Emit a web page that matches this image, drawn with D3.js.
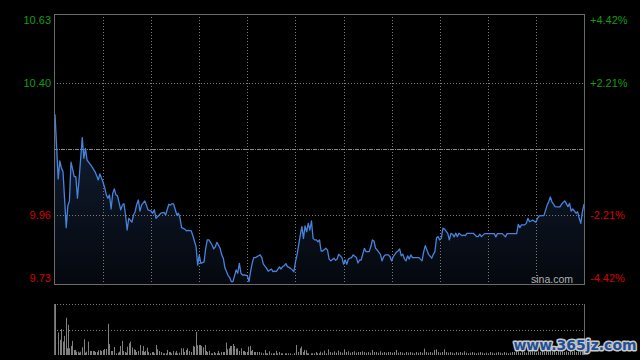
<!DOCTYPE html>
<html><head><meta charset="utf-8">
<script src="https://cdn.jsdelivr.net/npm/d3@7/dist/d3.min.js"></script>
<style>html,body{margin:0;padding:0;background:#000;}svg{display:block;}</style>
</head><body>
<svg id="c" width="640" height="360"></svg>
<script>
// ---- data ----
const prevClose = 10.18;
const leftTickValues = [10.63, 10.40, 9.96, 9.73];
const leftTickLabels = ["10.63", "10.40", "9.96", "9.73"];
const rightTickLabels = ["+4.42%", "+2.21%", "-2.21%", "-4.42%"];
const sessionMinutes = 330;
const gridMinutes = [30, 60, 90, 120, 150, 180, 210, 240, 270, 300];

const priceMinutes = [0,2,3,4,5,7,8,9,10,12,13,14,15,17,18,19,20,22,23,25,27,28,30,31,32,33,34,35,36,37,38,39,41,42,43,44,45,46,48,49,50,51,52,53,54,56,57,58,60,61,62,63,65,66,
68,69,71,72,73,74,76,77,78,79,81,82,83,85,86,88,89,90,91,93,94,95,96,98,99,100,101,103,104,105,106,108,109,110,111,113,114,115,116,117,118,120,121,122,123,124,125,127,128,129,130,132,
133,135,136,137,138,140,141,142,143,144,145,147,148,149,150,151,152,153,154,155,156,157,158,159,160,161,162,163,164,165,166,167,169,170,171,172,174,175,176,177,179,180,181,182,183,184,185,186,188,189,190,191,193,194,196,197,198,
199,200,201,203,204,205,206,208,209,210,211,213,214,215,216,217,218,219,220,221,222,223,225,226,227,229,230,231,232,233,235,236,237,238,239,240,241,242,243,245,246,247,248,249,250,251,252,254,255,256,257,259,260,261,263,264,
265,266,268,269,271,273,274,275,276,278,279,281,282,283,285,286,288,289,290,291,293,294,295,296,297,298,300,301,302,304,305,307,308,309,310,312,313,315,316,317,318,320,321,322,323,325,326,327,328,329,330];

const prices = [10.296,10.080,10.140,10.117,10.104,9.918,9.990,10.007,10.136,10.088,10.088,10.016,10.077,10.218,10.149,10.182,10.143,10.129,10.121,10.104,10.077,10.097,10.069,10.051,10.027,10.016,10.027,9.980,10.032,10.047,10.027,10.024,9.977,9.993,9.998,9.960,9.910,9.949,9.936,9.960,9.971,9.996,10.010,9.973,9.993,10.007,9.993,9.977,9.973,9.966,9.977,9.949,9.960,9.966,
9.969,9.960,9.996,9.993,9.998,9.996,9.960,9.966,9.949,9.918,9.913,9.907,9.909,9.907,9.891,9.854,9.793,9.827,9.799,9.804,9.849,9.877,9.877,9.860,9.847,9.854,9.869,9.849,9.827,9.816,9.784,9.758,9.751,9.738,9.738,9.777,9.766,9.799,9.766,9.760,9.760,9.758,9.738,9.771,9.799,9.818,9.818,9.824,9.827,9.818,9.796,9.782,
9.773,9.780,9.771,9.773,9.771,9.787,9.780,9.788,9.791,9.798,9.788,9.782,9.777,9.771,9.804,9.827,9.860,9.893,9.921,9.882,9.924,9.904,9.932,9.910,9.940,9.882,9.877,9.877,9.871,9.877,9.840,9.840,9.849,9.843,9.813,9.807,9.816,9.809,9.813,9.829,9.818,9.796,9.810,9.796,9.813,9.816,9.818,9.827,9.818,9.800,9.810,9.810,9.849,9.838,9.838,9.854,9.877,
9.873,9.849,9.843,9.829,9.807,9.821,9.827,9.827,9.821,9.807,9.821,9.836,9.840,9.847,9.824,9.829,9.813,9.807,9.824,9.813,9.827,9.818,9.818,9.818,9.818,9.807,9.838,9.858,9.843,9.829,9.816,9.829,9.838,9.884,9.888,9.877,9.882,9.916,9.913,9.899,9.877,9.899,9.896,9.887,9.899,9.888,9.899,9.891,9.893,9.891,9.899,9.899,9.899,9.899,9.888,9.888,
9.896,9.888,9.898,9.898,9.898,9.898,9.898,9.887,9.898,9.898,9.898,9.887,9.898,9.898,9.898,9.898,9.898,9.929,9.918,9.927,9.927,9.932,9.949,9.938,9.940,9.943,9.936,9.949,9.957,9.958,9.958,9.993,10.004,10.020,10.004,9.988,9.987,9.987,9.996,10.002,10.007,9.988,9.999,9.973,9.980,9.966,9.971,9.949,9.932,9.971,9.996];

const volMinutes = [0,2.1,3.1,3.7,4.8,5.4,5.8,6.8,7.7,8.3,8.9,10.0,10.6,11.6,12.5,13.3,14.1,14.9,15.8,17.0,18.3,18.9,19.5,20.8,21.6,22.4,23.4,24.3,25.1,25.9,27.0,27.8,28.6,29.7,30.7,32.0,33.2,33.8,34.9,35.7,36.9,38.2,39.0,40.0,40.7,41.9,42.7,43.6,44.4,45.2,46.1,46.9,47.9,49.0,49.8,50.6,51.5,53.1,54.0,54.8,55.6,56.4,57.3,58.1,59.3,60.2,61.0,61.8,63.1,63.9,64.9,66.0,67.2,68.1,69.3,70.1,71.0,71.8,72.6,73.9,74.7,75.5,76.4,77.2,78.4,79.7,80.5,81.5,82.6,83.4,84.7,85.9,86.7,88.0,88.8,89.6,90.5,91.3,92.1,93.4,94.2,95.0,95.9,97.1,98.1,99.2,100.0,100.8,101.7,102.5,103.3,104.6,105.4,106.7,107.5,108.3,109.1,110.0,110.8,111.6,112.9,113.7,115.0,115.8,117.0,117.9,118.7,119.9,120.7,121.6,122.4,123.2,124.1,124.9,126.2,127.4,128.2,129.5,130.7,131.6,132.4,133.6,134.5,135.7,136.5,137.8,138.6,139.9,140.7,141.9,143.2,144.4,145.3,146.5,147.7,149.0,150.6,151.5,152.7,153.6,154.4,155.6,156.5,157.3,158.1,159.4,160.6,161.4,162.7,163.5,164.8,
165.6,166.8,168.1,169.3,170.6,171.8,173.1,174.3,175.6,176.8,178.1,179.3,180.5,181.8,183.0,184.3,185.5,186.8,188.0,189.3,190.5,191.7,193.0,194.2,195.5,196.7,198.0,199.2,200.5,201.7,203.0,204.2,205.4,206.7,207.9,209.2,210.4,211.7,212.9,214.2,215.4,216.6,217.9,219.1,220.4,221.6,222.9,224.1,225.4,226.6,227.9,229.1,230.3,231.6,232.8,234.1,235.3,236.6,237.8,239.1,240.3,241.5,242.8,244.0,245.3,246.5,247.8,249.0,250.3,251.5,252.8,254.0,255.2,256.5,257.7,259.0,260.2,261.5,262.7,264.0,265.2,266.4,267.7,268.9,270.2,271.4,272.7,273.9,275.2,276.4,277.7,278.9,280.1,281.4,282.6,283.9,285.1,286.4,287.6,288.9,290.1,291.3,292.6,293.8,295.1,296.3,297.6,298.8,300.1,301.3,302.6,303.8,305.0,306.3,307.5,308.8,310.0,311.3,312.5,313.8,315.0,316.2,317.5,318.7,320.0,321.2,322.5,323.7,325.0,326.2,327.4,328.7,329.5];

const volumes = [152,67,45,77,40,57,30,111,20,90,20,27,42,15,15,10,10,7,10,23,47,7,10,40,12,12,12,12,9,9,14,14,12,15,18,18,93,33,12,12,24,5,7,10,27,42,12,9,7,25,35,40,22,17,15,9,12,30,12,27,9,12,22,9,5,9,9,5,30,17,12,9,5,5,5,15,9,9,5,12,7,12,5,7,20,20,9,15,20,12,9,27,25,69,29,30,30,27,23,30,12,9,12,5,5,9,5,5,12,5,9,9,9,37,17,20,27,27,33,27,19,20,12,20,12,12,9,9,25,27,12,15,9,9,9,9,7,5,15,5,5,11,5,5,5,12,5,9,5,5,5,5,5,5,2,5,30,9,20,25,9,15,14,5,5,5,5,5,9,5,5,
10,7,13,5,17,9,7,11,7,13,9,7,17,9,11,7,9,11,7,9,9,11,9,7,9,7,15,9,9,7,11,7,9,7,9,9,7,9,15,7,9,7,5,9,7,9,7,5,9,7,9,7,19,9,7,9,7,15,17,9,7,9,17,9,7,9,7,5,9,7,9,7,11,7,5,7,9,7,5,7,9,7,5,7,5,9,7,5,7,9,7,5,9,7,5,7,9,9,11,9,7,11,9,7,11,9,13,9,7,11,9,13,9,11,9,13,9,11,9,13,9,11,9,11,9,11,9,13,9,11,9,11,15];

// ---- layout ----
const svg = d3.select("#c");
const M = {left: 54, right: 584, top: 14, bottom: 284};
const V = {top: 304, bottom: 355};
const green = "#139c13", red = "#d40000";

const x = d3.scaleLinear().domain([0, sessionMinutes]).range([55, 584]);
const y = d3.scaleLinear().domain([9.73, 10.63]).range([M.bottom, M.top]);
const yv = d3.scaleLinear().domain([0, 152]).range([V.bottom, V.top]);

const snap = v => Math.round(v) + 0.5;

// gradient for area
const defs = svg.append("defs");
const grad = defs.append("linearGradient").attr("id", "ag")
  .attr("gradientUnits", "userSpaceOnUse").attr("x1", 0).attr("x2", 0)
  .attr("y1", M.top).attr("y2", M.bottom);
grad.append("stop").attr("offset", "0%").attr("stop-color", "#1a2c4a");
grad.append("stop").attr("offset", "100%").attr("stop-color", "#05080e");

const pts = priceMinutes.map((m, i) => ({m, p: prices[i]}));

// area
svg.append("path").datum(pts)
  .attr("fill", "url(#ag)")
  .attr("d", d3.area().x(d => x(d.m)).y0(M.bottom).y1(d => y(d.p)));

// grid
const gridColor = "#7a7a7a";
svg.append("g").selectAll("line").data(gridMinutes).join("line")
  .attr("x1", d => snap(x(d))).attr("x2", d => snap(x(d)))
  .attr("y1", M.top).attr("y2", M.bottom)
  .attr("stroke", gridColor).attr("stroke-dasharray", "1,2");
svg.append("g").selectAll("line").data([10.40, 9.96]).join("line")
  .attr("x1", M.left).attr("x2", M.right)
  .attr("y1", d => snap(y(d))).attr("y2", d => snap(y(d)))
  .attr("stroke", gridColor).attr("stroke-dasharray", "1,2");
svg.append("line")
  .attr("x1", M.left).attr("x2", M.right)
  .attr("y1", snap(y(prevClose))).attr("y2", snap(y(prevClose)))
  .attr("stroke", "#8a8a8a").attr("stroke-dasharray", "4,1,1,1");

// price line
svg.append("path").datum(pts)
  .attr("fill", "none").attr("stroke", "#4583dc").attr("stroke-width", 1.3)
  .attr("stroke-linejoin", "round")
  .attr("d", d3.line().x(d => x(d.m)).y(d => y(d.p)));

// frame
svg.append("rect").attr("x", M.left + 0.5).attr("y", M.top + 0.5)
  .attr("width", M.right - M.left).attr("height", M.bottom - M.top)
  .attr("fill", "none").attr("stroke", "#6a6a6a");

// axis labels
const clampY = v => Math.max(20, Math.min(278, v));
svg.append("g").selectAll("text").data(leftTickValues).join("text")
  .attr("x", 51).attr("y", d => clampY(y(d))).attr("dy", "0.36em")
  .attr("text-anchor", "end")
  .attr("font-family", "Liberation Sans, Arial, sans-serif").attr("font-size", 11)
  .attr("fill", d => d > prevClose ? green : red)
  .text((d, i) => leftTickLabels[i]);
svg.append("g").selectAll("text").data(leftTickValues).join("text")
  .attr("x", 590).attr("y", d => clampY(y(d))).attr("dy", "0.36em")
  .attr("text-anchor", "start")
  .attr("font-family", "Liberation Sans, Arial, sans-serif").attr("font-size", 11)
  .attr("fill", d => d > prevClose ? green : red)
  .text((d, i) => rightTickLabels[i]);

// sina watermark
svg.append("text").attr("x", 573).attr("y", 279).attr("dy", "0.36em")
  .attr("text-anchor", "end")
  .attr("font-family", "Liberation Sans, Arial, sans-serif").attr("font-size", 10.5)
  .attr("fill", "#b0b0b0").text("sina.com");

// volume panel
svg.append("g").selectAll("line").data([V.top, 330]).join("line")
  .attr("x1", M.left).attr("x2", M.right)
  .attr("y1", d => snap(d)).attr("y2", d => snap(d))
  .attr("stroke", gridColor).attr("stroke-dasharray", "1,2");
svg.append("g").selectAll("line").data([M.left, M.right]).join("line")
  .attr("x1", d => d + 0.5).attr("x2", d => d + 0.5)
  .attr("y1", V.top).attr("y2", V.bottom)
  .attr("stroke", "#6a6a6a");
svg.append("g").selectAll("rect").data(volMinutes).join("rect")
  .attr("x", (d) => Math.round(x(d)))
  .attr("width", 1)
  .attr("y", (d, i) => yv(volumes[i]))
  .attr("height", (d, i) => V.bottom - yv(volumes[i]))
  .attr("fill", "#808080");

// site watermark
svg.append("text").attr("x", 575).attr("y", 345).attr("dy", "0.36em")
  .attr("text-anchor", "middle")
  .attr("font-family", "DejaVu Sans, sans-serif").attr("font-weight", "bold").attr("font-size", 14)
  .attr("fill", "#1f4f96").attr("stroke", "#c8c8c8").attr("stroke-width", 3)
  .attr("paint-order", "stroke").attr("stroke-linejoin", "round")
  .text("www.365jz.com");
</script>
</body></html>
